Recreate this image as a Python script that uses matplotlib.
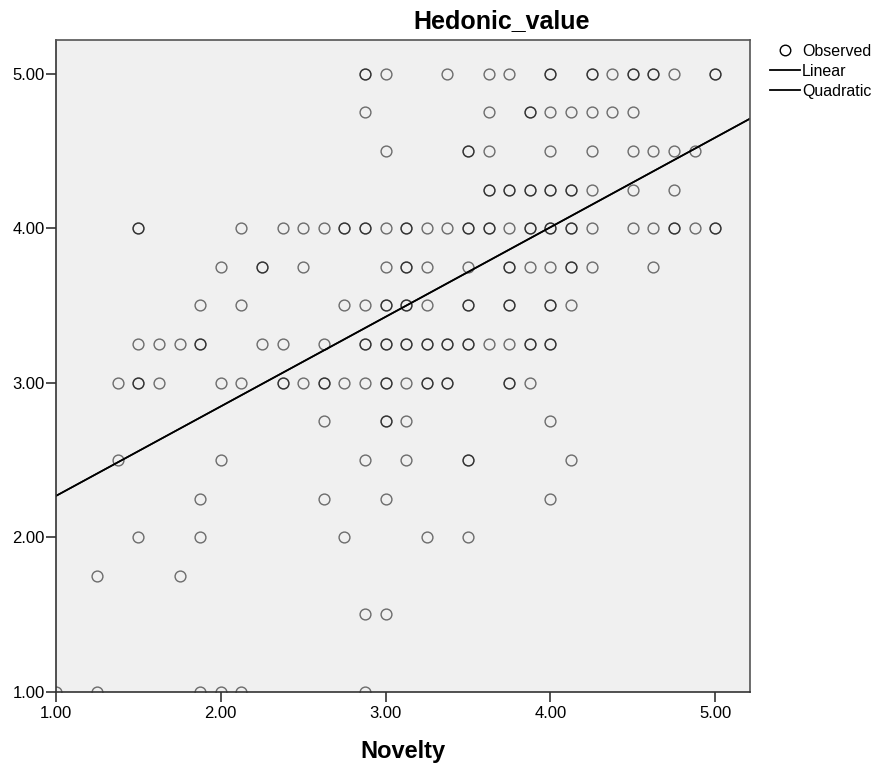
import numpy as np
import matplotlib
matplotlib.use("Agg")
import matplotlib.pyplot as plt
from matplotlib.lines import Line2D

plt.rcParams['font.family'] = ['Liberation Sans', 'DejaVu Sans']

# Observed (Novelty, Hedonic_value) pairs, one list of Novelty values per Hedonic level
hedonic_levels = [5.00, 4.75, 4.50, 4.25, 4.00, 3.75, 3.50, 3.25, 3.00, 2.75, 2.50, 2.25, 2.00, 1.75, 1.50, 1.00]
nov_500 = [2.875, 3.0, 3.375, 3.625, 3.75, 4.0, 4.25, 4.375, 4.5, 4.625, 4.75, 5.0]
nov_475 = [2.875, 3.625, 3.875, 4.0, 4.125, 4.25, 4.375, 4.5]
nov_450 = [3.0, 3.5, 3.625, 4.0, 4.25, 4.5, 4.625, 4.75, 4.875]
nov_425 = [3.625, 3.75, 3.875, 4.0, 4.125, 4.25, 4.5, 4.75]
nov_400 = [1.5, 2.125, 2.375, 2.5, 2.625, 2.75, 2.875, 3.0, 3.125, 3.25, 3.375, 3.5,
           3.625, 3.75, 3.875, 4.0, 4.125, 4.25, 4.5, 4.625, 4.75, 4.875, 5.0]
nov_375 = [2.0, 2.25, 2.5, 3.0, 3.125, 3.25, 3.5, 3.75, 3.875, 4.0, 4.125, 4.25, 4.625]
nov_350 = [1.875, 2.125, 2.75, 2.875, 3.0, 3.125, 3.25, 3.5, 3.75, 4.0, 4.125]
nov_325 = [1.5, 1.625, 1.75, 1.875, 2.25, 2.375, 2.625, 2.875, 3.0, 3.125, 3.25, 3.375,
           3.5, 3.625, 3.75, 3.875, 4.0]
nov_300 = [1.375, 1.5, 1.625, 2.0, 2.125, 2.375, 2.5, 2.625, 2.75, 2.875, 3.0, 3.125,
           3.25, 3.375, 3.75, 3.875]
nov_275 = [2.625, 3.0, 3.125, 4.0]
nov_250 = [1.375, 2.0, 2.875, 3.125, 3.5, 4.125]
nov_225 = [1.875, 2.625, 3.0, 4.0]
nov_200 = [1.5, 1.875, 2.75, 3.25, 3.5]
nov_175 = [1.25, 1.75]
nov_150 = [2.875, 3.0]
nov_100 = [1.0, 1.25, 1.875, 2.0, 2.125, 2.875]

# cases that occur more than once (drawn darker in the original)
dup_500 = [2.875, 4.0, 4.25, 4.5, 4.625, 5.0]
dup_475 = [3.875]
dup_450 = [3.5]
dup_425 = [3.625, 3.75, 3.875, 4.0, 4.125]
dup_400 = [1.5, 2.75, 2.875, 3.125, 3.5, 3.625, 3.875, 4.0, 4.125, 4.75, 5.0]
dup_375 = [2.25, 3.125, 3.75, 4.125]
dup_350 = [3.0, 3.125, 3.5, 3.75, 4.0]
dup_325 = [1.875, 2.875, 3.0, 3.125, 3.25, 3.375, 3.5, 3.875, 4.0]
dup_300 = [1.5, 2.375, 2.625, 3.0, 3.25, 3.375, 3.75]
dup_275 = [3.0]
dup_250 = [3.5]

novelty_rows = [nov_500, nov_475, nov_450, nov_425, nov_400, nov_375, nov_350, nov_325,
                nov_300, nov_275, nov_250, nov_225, nov_200, nov_175, nov_150, nov_100]
dup_rows = [dup_500, dup_475, dup_450, dup_425, dup_400, dup_375, dup_350, dup_325,
            dup_300, dup_275, dup_250, [], [], [], [], []]

# fitted curves (coefficients; quadratic lies on top of linear)
lin_b0, lin_b1 = 1.687, 0.580
quad_b0, quad_b1, quad_b2 = 1.689, 0.578, 0.0003

novelty = []
hedonic = []
for level, xs, ds in zip(hedonic_levels, novelty_rows, dup_rows):
    for v in xs + ds:
        novelty.append(v)
        hedonic.append(level)
novelty = np.array(novelty)
hedonic = np.array(hedonic)

fig = plt.figure(figsize=(8.84, 7.67), dpi=100)
ax = fig.add_axes([0.0633, 0.0982, 0.785, 0.849])
ax.set_facecolor('#F0F0F0')

x_min, x_max = 1.0, 5.21
y_min, y_max = 1.0, 5.215

ax.plot(novelty, hedonic, linestyle='none', marker='o', markersize=7.8,
        markerfacecolor='none', markeredgecolor='black', markeredgewidth=1.0, alpha=0.55)

xs = np.linspace(x_min, x_max, 200)
ax.plot(xs, quad_b0 + quad_b1 * xs + quad_b2 * xs ** 2, color='black', lw=1.2)
ax.plot(xs, lin_b0 + lin_b1 * xs, color='black', lw=1.2)

ax.set_xlim(x_min, x_max)
ax.set_ylim(y_min, y_max)
ticks = [1.0, 2.0, 3.0, 4.0, 5.0]
ax.set_xticks(ticks)
ax.set_yticks(ticks)
ax.set_xticklabels(['%.2f' % t for t in ticks])
ax.set_yticklabels(['%.2f' % t for t in ticks])
ax.tick_params(axis='both', direction='out', length=7, width=1.2, color='#333333',
               labelsize=12, pad=1)
ax.tick_params(axis='x', pad=3)
for s in ax.spines.values():
    s.set_color('#555555')
    s.set_linewidth(1.2)
ax.spines['left'].set_color('#333333')
ax.spines['bottom'].set_color('#333333')

ax.set_xlabel('Novelty', fontsize=17, fontweight='bold', labelpad=14)
fig.text(0.568, 0.963, 'Hedonic_value', fontsize=18, fontweight='bold',
         ha='center', va='baseline')

handles = [
    Line2D([], [], linestyle='none', marker='o', markersize=7.6, markerfacecolor='none',
           markeredgecolor='black', markeredgewidth=1.0),
    Line2D([], [], color='black', lw=1.3),
    Line2D([], [], color='black', lw=1.3),
]
fig.legend(handles, ['Observed', 'Linear', 'Quadratic'], loc='upper left',
           bbox_to_anchor=(0.862, 0.953), frameon=False, fontsize=11.5,
           handlelength=1.9, handletextpad=0.1, labelspacing=0.3, borderpad=0)

fig.savefig('out.png', dpi=100)
